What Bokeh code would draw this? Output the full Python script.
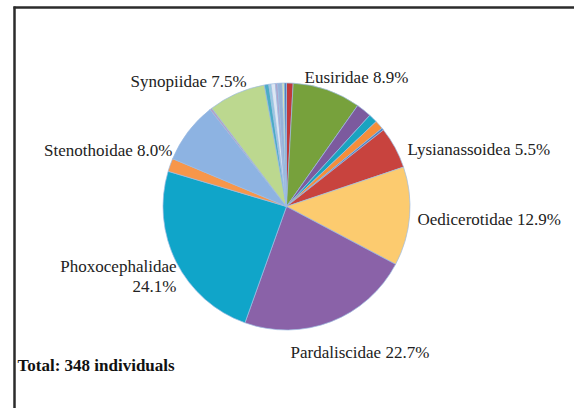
import math
from bokeh.plotting import figure
from bokeh.models import ColumnDataSource, Range1d
from bokeh.core.properties import value
from bokeh.embed import file_html
from bokeh.resources import INLINE

# ---- data (clockwise from 12 o'clock) ----
names = ["", "Eusiridae", "", "", "", "", "Lysianassoidea", "Oedicerotidae",
         "Pardaliscidae", "Phoxocephalidae", "", "Stenothoidae", "", "Synopiidae",
         "", "", "", "", "", "", ""]
counts = [3, 31, 7, 4, 4, 1, 19, 45, 79, 84, 6, 28, 1, 26,
          2, 1, 2, 1, 2, 1, 1]
colors = ["#C0393B", "#77A13C", "#7C5A9E", "#1AA3C0", "#F58E3A", "#4F81BD",
          "#C8433E", "#FCCB6F", "#8A62A8", "#10A5C9", "#F7964A", "#8DB3E2",
          "#B3A2C7", "#BCD88F", "#4BACC6", "#93CDDD", "#DCE6F2", "#B3A2C7",
          "#95B3D7", "#DDE8B9", "#4F81BD"]
total_label = "Total: 348 individuals"

W, H = 574, 408

def sx(x):  # screen x -> data x
    return x

def sy(y):  # screen y -> data y
    return H - y

total = sum(counts)
starts, ends = [], []
c = 0
for n in counts:
    starts.append(math.pi / 2 - 2 * math.pi * c / total)
    c += n
    ends.append(math.pi / 2 - 2 * math.pi * c / total)

cx, cy, r = sx(286), sy(206), 123.5

p = figure(width=W, height=H, output_backend="svg", toolbar_location=None,
           x_range=Range1d(0, W), y_range=Range1d(0, H),
           x_axis_location=None, y_axis_location=None, min_border=0)
p.outline_line_color = None
p.xgrid.visible = False
p.ygrid.visible = False
p.background_fill_color = "white"
p.border_fill_color = "white"

src = ColumnDataSource(dict(start=starts, end=ends, color=colors))
p.wedge(x=cx, y=cy, radius=r, start_angle="start", end_angle="end",
        direction="clock", fill_color="color", line_color="#9DBBE2",
        line_width=0.7, source=src)

# frame lines (top and left)
p.line([sx(13), sx(580)], [sy(7), sy(7)], line_color="#2b2b2b", line_width=2.5)
p.line([sx(14), sx(14)], [sy(6), sy(430)], line_color="#2b2b2b", line_width=2.5)

# label layout: name -> (screen x, baseline y, align, split)
layout = {
    "Eusiridae": (304, 77, "left", False),
    "Lysianassoidea": (407, 149, "left", False),
    "Oedicerotidae": (417, 219, "left", False),
    "Pardaliscidae": (290, 352, "left", False),
    "Phoxocephalidae": (176, 266, "right", True),
    "Stenothoidae": (172, 150, "right", False),
    "Synopiidae": (130, 81, "left", False),
}
tx, ty, tt, ta = [], [], [], []
for nm, n in zip(names, counts):
    if not nm:
        continue
    pct = f"{100 * n / total:.1f}%"
    x, y, al, split = layout[nm]
    if split:
        tx += [sx(x), sx(x)]
        ty += [sy(y), sy(y + 20)]
        tt += [nm, pct]
        ta += [al, al]
    else:
        tx.append(sx(x)); ty.append(sy(y)); tt.append(f"{nm} {pct}"); ta.append(al)

lsrc = ColumnDataSource(dict(x=tx, y=ty, t=tt, a=ta))
p.text(x="x", y="y", text="t", text_align="a", text_baseline="alphabetic",
       text_font=value("Liberation Serif"), text_font_size="17px",
       text_color="#222222", source=lsrc)

p.text(x=[sx(17)], y=[sy(365)], text=[total_label], text_align="left",
       text_baseline="alphabetic", text_font=value("Liberation Serif"),
       text_font_size="17px", text_font_style="bold", text_color="#111111")

open("out.html", "w").write(file_html(p, INLINE))
